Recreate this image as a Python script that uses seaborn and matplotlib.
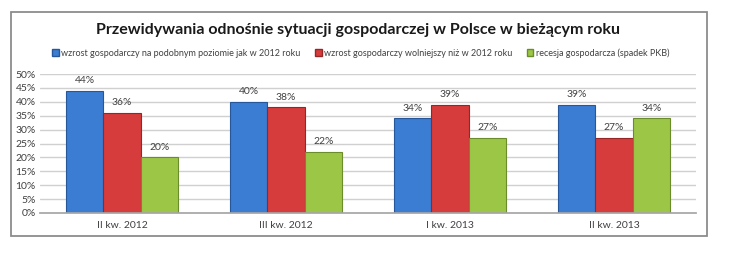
import numpy as np
import pandas as pd
import matplotlib.pyplot as plt
import seaborn as sns
from matplotlib.patches import Rectangle

kwartaly = ['II kw. 2012', 'III kw. 2012', 'I kw. 2013', 'II kw. 2013']
serie = ['wzrost gospodarczy na podobnym poziomie jak w 2012 roku',
         'wzrost gospodarczy wolniejszy niż w 2012 roku',
         'recesja gospodarcza (spadek PKB)']
podobny = [44, 40, 34, 39]
wolniejszy = [36, 38, 39, 27]
recesja = [20, 22, 27, 34]
kolory = ['#3b7dd2', '#d63c3c', '#9cc746']
krawedzie = ['#25579a', '#962626', '#6a8c2a']

df = pd.DataFrame({
    'kwartal': kwartaly * 3,
    'seria': [serie[0]] * 4 + [serie[1]] * 4 + [serie[2]] * 4,
    'wartosc': podobny + wolniejszy + recesja,
})

sns.set_theme(style='white')
plt.rcParams['font.family'] = ['Lato', 'DejaVu Sans']

fig = plt.figure(figsize=(7.55, 2.79), dpi=100)
# ramka wykresu
fig.patches.append(Rectangle((11 / 755, 1 - 236 / 279), 696 / 755, 224 / 279,
                             transform=fig.transFigure, fill=False,
                             edgecolor='#8c8c8c', linewidth=1.3))
ax = fig.add_axes([40 / 755, 1 - 213 / 279, 656 / 755, 139 / 279])

sns.barplot(data=df, x='kwartal', y='wartosc', hue='seria', order=kwartaly,
            hue_order=serie, palette=kolory, saturation=1, width=0.68,
            ax=ax, legend=False)

for i, cont in enumerate(ax.containers):
    for bar in cont:
        bar.set_edgecolor(krawedzie[i])
        bar.set_linewidth(0.8)
    ax.bar_label(cont, labels=[f'{v:.0f}%' for v in cont.datavalues],
                 padding=4, fontsize=7.5, color='#404040')

ax.set_ylim(0, 50)
ax.set_yticks(range(0, 51, 5))
ax.set_yticklabels([f'{t}%' for t in range(0, 51, 5)])
ax.yaxis.grid(True, color='#d0d0d0', linewidth=1)
ax.set_axisbelow(True)
ax.set_xlim(-0.5, 3.5)
for s in ['left', 'right', 'top']:
    ax.spines[s].set_visible(False)
ax.spines['bottom'].set_color('#a6a6a6')
ax.tick_params(axis='both', length=0, labelsize=7.5, colors='#404040', pad=6)
ax.tick_params(axis='y', pad=3)
ax.set_xlabel('')
ax.set_ylabel('')

fig.text(358 / 755, 1 - 30 / 279, 'Przewidywania odnośnie sytuacji gospodarczej w Polsce w bieżącym roku',
         ha='center', va='center', fontsize=11.5, fontweight='bold', color='#1a1a1a')

uchwyty = [Rectangle((0, 0), 1, 1, facecolor=kolory[i], edgecolor=krawedzie[i]) for i in range(3)]
fig.legend(uchwyty, serie, loc='center', bbox_to_anchor=(361 / 755, 1 - 53 / 279), ncol=3,
           frameon=False, fontsize=6.5, handlelength=0.7, handleheight=0.7,
           handletextpad=0.3, columnspacing=1.6, labelcolor='#404040')

fig.savefig('out.png', dpi=100, facecolor='white')
